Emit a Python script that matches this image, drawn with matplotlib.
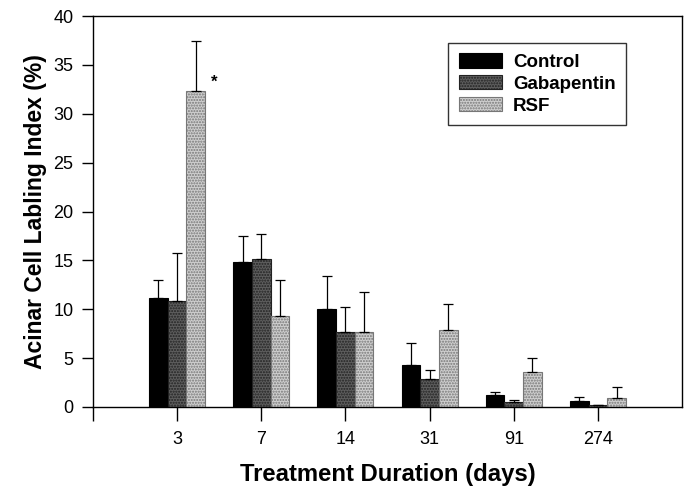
import numpy as np
import matplotlib
matplotlib.use("Agg")
import matplotlib.pyplot as plt

plt.rcParams['font.family'] = ['Liberation Sans', 'DejaVu Sans']

# Data
durations = ['3', '7', '14', '31', '91', '274']
control = [11.1, 14.8, 10.0, 4.3, 1.2, 0.6]
control_err = [1.9, 2.7, 3.4, 2.2, 0.3, 0.4]
gabapentin = [10.8, 15.1, 7.7, 2.9, 0.5, 0.2]
gabapentin_err = [5.0, 2.6, 2.5, 0.9, 0.2, 0.05]
rsf = [32.3, 9.3, 7.7, 7.9, 3.6, 0.95]
rsf_err = [5.1, 3.7, 4.1, 2.6, 1.4, 1.05]

fig = plt.figure(figsize=(6.88, 4.86), dpi=100)
ax = fig.add_axes([0.1352, 0.1626, 0.8561, 0.8044])

x = np.arange(len(durations))
w = 0.222

ax.bar(x - w, control, w, color='black', edgecolor='black', linewidth=0.8,
       yerr=[np.zeros(len(x)), control_err], capsize=3.5,
       error_kw=dict(ecolor='black', elinewidth=0.9, capthick=0.9), label='Control')
ax.bar(x, gabapentin, w, color='#5e5e5e', edgecolor='#222222', hatch='......', linewidth=0.8,
       yerr=[np.zeros(len(x)), gabapentin_err], capsize=3.5,
       error_kw=dict(ecolor='black', elinewidth=0.9, capthick=0.9), label='Gabapentin')
ax.bar(x + w, rsf, w, color='#cfcfcf', edgecolor='#777777', hatch='......', linewidth=0.8,
       yerr=[np.zeros(len(x)), rsf_err], capsize=3.5,
       error_kw=dict(ecolor='black', elinewidth=0.9, capthick=0.9), label='RSF')

ax.text(0.44, 33.2, '*', fontsize=12, fontweight='bold', ha='center', va='center')

ax.set_xlim(-1, 6)
ax.set_ylim(0, 40)
ax.set_yticks(np.arange(0, 41, 5))
ax.set_xticks(x)
ax.set_xticklabels(durations)
ax.tick_params(axis='x', length=10, width=1, pad=7, labelsize=13, direction='out')
ax.tick_params(axis='y', length=8, width=1, pad=6, labelsize=13, direction='out')
ax.set_xticks([-1], minor=True)
ax.tick_params(axis='x', which='minor', length=10, width=1)

for s in ax.spines.values():
    s.set_linewidth(1)
    s.set_color('black')

ax.set_xlabel('Treatment Duration (days)', fontsize=17.2, fontweight='bold', labelpad=11)
ax.set_ylabel('Acinar Cell Labling Index (%)', fontsize=16.5, fontweight='bold', labelpad=5)

leg = ax.legend(loc='upper right', bbox_to_anchor=(0.905, 0.931), borderaxespad=0,
                fancybox=False, frameon=True, edgecolor='black',
                prop={'weight': 'bold', 'size': 13.5}, handlelength=2.3, handleheight=0.8,
                handletextpad=0.6, labelspacing=0.22, borderpad=0.55)
leg.get_frame().set_linewidth(1)

fig.savefig('out.png', dpi=100)
